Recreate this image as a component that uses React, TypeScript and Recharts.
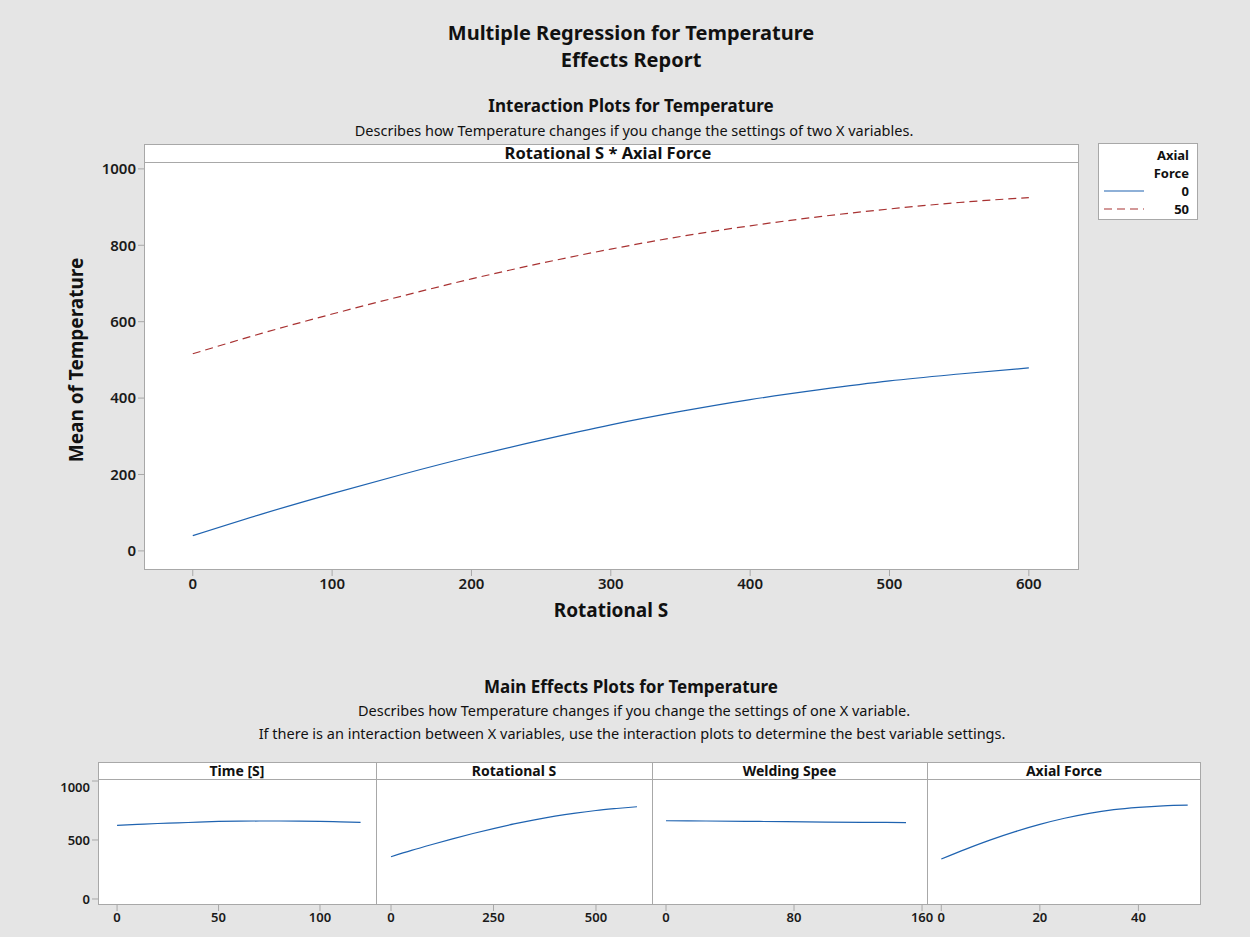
import React from 'react'
import { LineChart, Line, XAxis, YAxis } from 'recharts'

// interaction plot: Rotational S * Axial Force
const rotationalS = [0, 50, 100, 150, 200, 250, 300, 350, 400, 450, 500, 550, 600]
const tempAxial0 = [40, 97, 150, 200, 247, 290, 330, 365, 396, 422, 445, 463, 479]
const tempAxial50 = [516, 570, 620, 667, 712, 753, 790, 823, 851, 875, 895, 912, 925]
const mainXTicks = [0, 100, 200, 300, 400, 500, 600]
const mainYTicks = [0, 200, 400, 600, 800, 1000]

// main effects
const timeS = [0, 10, 20, 30, 40, 50, 60, 70, 80, 90, 100, 110, 120]
const meanByTime = [624, 632, 640, 645, 652, 657, 660, 661, 661, 660, 658, 654, 650]
const meanByRot = [358, 412, 462, 510, 555, 597, 636, 671, 702, 728, 750, 767, 782]
const weldingSpeed = [0, 25, 50, 75, 100, 125, 150]
const meanByWeld = [663, 661, 658, 655, 652, 650, 648]
const axialForce = [0, 5, 10, 15, 20, 25, 30, 35, 40, 45, 50]
const meanByAxial = [339, 423, 501, 571, 632, 684, 726, 757, 777, 790, 795]
const effectYTicks = [0, 500, 1000]

const FONT = '"Noto Sans", "Open Sans", sans-serif'
const BG = '#e5e5e5'
const FRAME = '#a8a8a8'
const BLUE = '#1f63b0'
const RED = '#a83232'

const tickStyle = { fontSize: 15, fontWeight: 600, fill: '#1a1a1a', fontFamily: FONT }
const smallTick = { fontSize: 13, fontWeight: 600, fill: '#1a1a1a', fontFamily: FONT }

const mainData = rotationalS.map((x, i) => ({ x, f0: tempAxial0[i], f50: tempAxial50[i] }))

type Pt = { x: number; y: number }
const zip = (xs: number[], ys: number[]): Pt[] => xs.map((x, i) => ({ x, y: ys[i] }))

const panels = [
  { title: 'Time [S]', left: 98, right: 376, domain: [-9.4, 127.6], ticks: [0, 50, 100], data: zip(timeS, meanByTime) },
  { title: 'Rotational S', left: 376, right: 652, domain: [-36.6, 636.6], ticks: [0, 250, 500], data: zip(rotationalS, meanByRot) },
  { title: 'Welding Spee', left: 652, right: 927, domain: [-8.75, 163.1], ticks: [0, 80, 160], data: zip(weldingSpeed, meanByWeld) },
  { title: 'Axial Force', left: 927, right: 1201, domain: [-2.9, 52.7], ticks: [0, 20, 40], data: zip(axialForce, meanByAxial) },
]

function Text({ x, y, size, weight = 400, children, anchor = 'center' }: any) {
  const tx = anchor === 'center' ? '-50%' : anchor === 'right' ? '-100%' : '0'
  return (
    <div
      style={{
        position: 'absolute', left: x, top: y, transform: `translate(${tx}, -50%)`,
        fontSize: size, fontWeight: weight, fontFamily: FONT, color: '#111', whiteSpace: 'nowrap', lineHeight: 1,
      }}
    >
      {children}
    </div>
  )
}

function EffectPanel({ p, first }: { p: (typeof panels)[number]; first: boolean }) {
  const ml = first ? 10 : 20
  const yw = first ? 40 : 0
  const mr = 20
  const w = p.right - p.left
  return (
    <div style={{ position: 'absolute', left: p.left - ml - yw, top: 779 }}>
      <LineChart
        width={w + ml + yw + mr}
        height={156}
        data={p.data}
        margin={{ top: 0, right: mr, bottom: 0, left: ml }}
      >
        <XAxis
          dataKey="x" type="number" domain={p.domain} ticks={p.ticks} allowDataOverflow
          height={30} tick={smallTick} tickLine={{ stroke: FRAME }} axisLine={false} tickSize={6}
        />
        <YAxis
          type="number" domain={[-51, 1017]} ticks={effectYTicks} allowDataOverflow hide={!first}
          width={yw} tick={smallTick} tickLine={{ stroke: FRAME }} axisLine={false} tickSize={6}
        />
        <Line type="monotone" dataKey="y" stroke={BLUE} strokeWidth={1.2} dot={false} isAnimationActive={false} />
      </LineChart>
    </div>
  )
}

export default function App() {
  return (
    <div style={{ position: 'absolute', left: 0, top: 0, width: 1250, height: 937, background: BG, overflow: 'hidden' }}>
      <Text x={631} y={33} size={20} weight={700}>Multiple Regression for Temperature</Text>
      <Text x={631} y={60} size={20} weight={700}>Effects Report</Text>
      <Text x={631} y={105} size={17} weight={700}>Interaction Plots for Temperature</Text>
      <Text x={634} y={130} size={14.5}>Describes how Temperature changes if you change the settings of two X variables.</Text>

      {/* interaction frame */}
      <div style={{ position: 'absolute', left: 144, top: 144, width: 935, height: 426, background: '#fff', boxSizing: 'border-box', border: `1px solid ${FRAME}` }} />
      <div style={{ position: 'absolute', left: 144, top: 162, width: 935, height: 1, background: FRAME }} />
      <Text x={608} y={153} size={16.5} weight={700}>Rotational S * Axial Force</Text>

      <div style={{ position: 'absolute', left: 0, top: 0 }}>
        <LineChart
          width={1250}
          height={640}
          data={mainData}
          margin={{ top: 162, right: 171, bottom: 30, left: 84 }}
        >
          <XAxis
            dataKey="x" type="number" domain={[-35, 636]} ticks={mainXTicks} allowDataOverflow
            height={40} tick={tickStyle} tickLine={{ stroke: FRAME }} axisLine={false} tickSize={6}
          />
          <YAxis
            type="number" domain={[-50, 1018]} ticks={mainYTicks} allowDataOverflow
            width={60} tick={tickStyle} tickLine={{ stroke: FRAME }} axisLine={false} tickSize={6}
          />
          <Line type="monotone" dataKey="f0" stroke={BLUE} strokeWidth={1.2} dot={false} isAnimationActive={false} />
          <Line type="monotone" dataKey="f50" stroke={RED} strokeWidth={1.2} strokeDasharray="8 5" dot={false} isAnimationActive={false} />
        </LineChart>
      </div>

      <div style={{ position: 'absolute', left: 76, top: 360, transform: 'translate(-50%, -50%) rotate(-90deg)', fontSize: 19, fontWeight: 700, fontFamily: FONT, color: '#111', whiteSpace: 'nowrap' }}>
        Mean of Temperature
      </div>
      <Text x={611} y={610} size={19} weight={700}>Rotational S</Text>

      {/* legend */}
      <div style={{ position: 'absolute', left: 1098, top: 143, width: 100, height: 77, background: '#fff', boxSizing: 'border-box', border: `1px solid ${FRAME}` }}>
        <Text x={90} y={11} size={13} weight={700} anchor="right">Axial</Text>
        <Text x={90} y={29} size={13} weight={700} anchor="right">Force</Text>
        <svg style={{ position: 'absolute', left: 0, top: 0 }} width={100} height={77}>
          <line x1={5} x2={45} y1={47} y2={47} stroke={BLUE} strokeWidth={1.2} />
          <line x1={5} x2={45} y1={65} y2={65} stroke={RED} strokeWidth={1.2} strokeDasharray="8 5" />
        </svg>
        <Text x={90} y={47} size={13} weight={700} anchor="right">0</Text>
        <Text x={90} y={65} size={13} weight={700} anchor="right">50</Text>
      </div>

      <Text x={631} y={686} size={17} weight={700}>Main Effects Plots for Temperature</Text>
      <Text x={634} y={710} size={14.5}>Describes how Temperature changes if you change the settings of one X variable.</Text>
      <Text x={632} y={733} size={14.5}>If there is an interaction between X variables, use the interaction plots to determine the best variable settings.</Text>

      {/* main effects frame */}
      <div style={{ position: 'absolute', left: 98, top: 762, width: 1103, height: 143, background: '#fff', boxSizing: 'border-box', border: `1px solid ${FRAME}` }} />
      <div style={{ position: 'absolute', left: 98, top: 779, width: 1103, height: 1, background: FRAME }} />
      {panels.slice(1).map((p) => (
        <div key={p.title} style={{ position: 'absolute', left: p.left, top: 762, width: 1, height: 143, background: FRAME }} />
      ))}
      {panels.map((p) => (
        <Text key={p.title} x={(p.left + p.right) / 2} y={771} size={14} weight={700}>{p.title}</Text>
      ))}
      {panels.map((p, i) => (
        <EffectPanel key={p.title} p={p} first={i === 0} />
      ))}
    </div>
  )
}
